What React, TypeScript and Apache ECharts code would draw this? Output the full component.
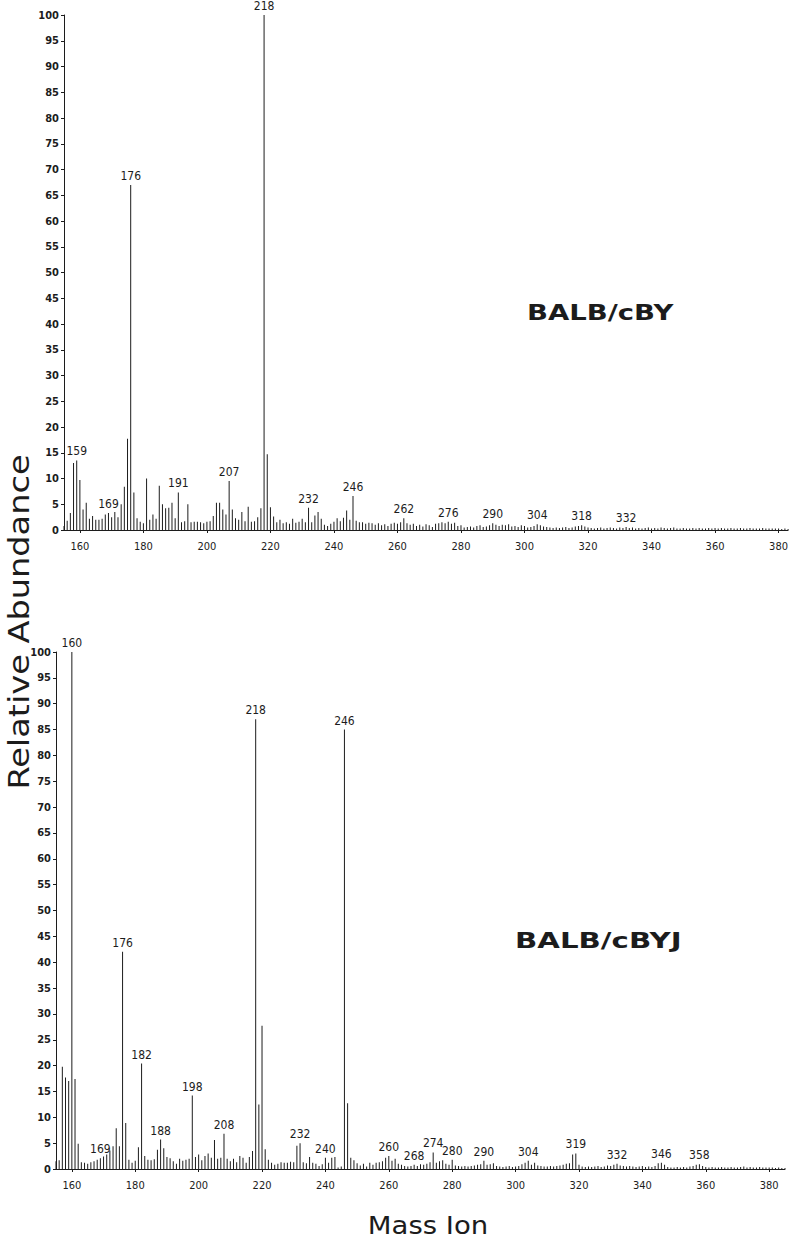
import React, { useEffect, useRef } from "react";
import * as echarts from "echarts";

// m/z of the first value in each abundance array
const MASS_START = 155;

// BALB/cBY relative abundance, m/z 155 .. 383
const topAbundance = [
  0.8, 1.8, 3.3, 13, 13.5, 9.7, 4, 5.3, 2.2, 2.7, // 155-164
  2, 2, 2.2, 3, 3.3, 2.5, 3.5, 2.5, 5, 8.4, // 165-174
  17.7, 67, 7.3, 2.3, 1.6, 1.3, 10, 2, 3, 2.2, // 175-184
  8.6, 5, 4.2, 4.3, 5.3, 2.3, 7.3, 1.5, 1.7, 5, // 185-194
  1.5, 1.6, 1.6, 1.5, 1.3, 1.6, 1.7, 2.7, 5.3, 5.3, // 195-204
  4, 3, 9.5, 4, 2.3, 2, 3.5, 1.7, 4.5, 1.6, // 205-214
  1.7, 2.5, 4.2, 100, 14.7, 4.4, 2.6, 1.5, 2, 1.3, // 215-224
  1.5, 1.2, 2.2, 1.4, 1.6, 2.2, 1.5, 4.3, 1.5, 2.8, // 225-234
  3.5, 2.2, 1, 0.8, 1.2, 1.6, 2.3, 1.7, 2.4, 3.8, // 235-244
  2, 6.6, 1.8, 1.5, 1.5, 1.2, 1.4, 1.3, 1, 1.3, // 245-254
  0.9, 1.1, 0.8, 1.2, 1.4, 1.2, 1.5, 2.3, 1.3, 1, // 255-264
  1.2, 0.8, 1, 0.7, 1.1, 0.9, 0.6, 1.2, 1.3, 1.5, // 265-274
  1.3, 1.6, 1.2, 1.4, 0.8, 0.9, 0.5, 0.6, 0.7, 0.5, // 275-284
  0.8, 0.9, 0.6, 0.7, 0.9, 1.3, 1, 0.8, 1, 0.9, // 285-294
  1.1, 0.7, 0.8, 0.6, 0.9, 0.8, 0.5, 0.6, 0.8, 1.1, // 295-304
  0.9, 0.7, 0.6, 0.5, 0.4, 0.5, 0.4, 0.5, 0.6, 0.4, // 305-314
  0.5, 0.7, 0.8, 0.9, 0.7, 0.5, 0.4, 0.3, 0.4, 0.5, // 315-324
  0.3, 0.4, 0.5, 0.4, 0.3, 0.5, 0.4, 0.6, 0.4, 0.5, // 325-334
  0.3, 0.4, 0.3, 0.4, 0.5, 0.3, 0.4, 0.3, 0.5, 0.4, // 335-344
  0.3, 0.4, 0.5, 0.3, 0.3, 0.4, 0.3, 0.3, 0.4, 0.3, // 345-354
  0.4, 0.3, 0.3, 0.4, 0.3, 0.4, 0.3, 0.4, 0.3, 0.3, // 355-364
  0.4, 0.3, 0.3, 0.4, 0.3, 0.3, 0.4, 0.3, 0.3, 0.3, // 365-374
  0.4, 0.3, 0.3, 0.3, 0.3, 0.3, 0.2, 0.3, 0.2, // 375-383
];

// BALB/cBYJ relative abundance, m/z 155 .. 385
const bottomAbundance = [
  1.5, 1.7, 19.8, 17.7, 17, 100, 17.4, 4.9, 1.3, 1.2, // 155-164
  1, 1.3, 1.5, 1.8, 2.1, 2.4, 2.8, 3.6, 4.4, 7.9, // 165-174
  4.4, 42, 8.9, 1.8, 1.2, 1.6, 4.2, 20.4, 2.5, 1.8, // 175-184
  1.7, 1.9, 3.7, 5.7, 4, 2.3, 2.1, 1.5, 1, 2, // 185-194
  1.6, 1.8, 2, 14.2, 2.3, 2.8, 1.7, 2.5, 3, 2.2, // 195-204
  5.6, 2, 2.2, 6.8, 2, 1.5, 2, 1.3, 2.5, 2.2, // 205-214
  1.2, 2.3, 3.5, 87, 12.5, 27.7, 3.8, 1.8, 1.2, 0.8, // 215-224
  1, 1.3, 1.2, 1.2, 1.4, 1.3, 4.5, 5, 1.3, 1.1, // 225-234
  2.3, 1.2, 1, 0.6, 0.9, 2.2, 1.2, 2.2, 2.3, 0.3, // 235-244
  0.5, 85, 12.7, 2.2, 1.7, 1.1, 0.7, 1, 0.5, 1.2, // 245-254
  0.8, 1.2, 1.3, 1.5, 2.2, 2.5, 1.6, 2, 1, 0.8, // 255-264
  0.6, 0.5, 0.6, 0.8, 0.6, 0.9, 0.8, 1, 1.3, 3.2, // 265-274
  1.2, 1.5, 1.7, 1, 0.8, 1.8, 0.7, 0.6, 0.5, 0.6, // 275-284
  0.5, 0.6, 0.7, 0.8, 0.9, 1.6, 0.8, 0.9, 1.1, 0.6, // 285-294
  0.5, 0.4, 0.5, 0.6, 0.4, 0.5, 0.6, 0.9, 1.2, 1.6, // 295-304
  0.8, 1.2, 0.7, 0.6, 0.5, 0.5, 0.6, 0.5, 0.6, 0.7, // 305-314
  0.8, 1, 1.1, 2.8, 3, 0.8, 0.5, 0.4, 0.5, 0.4, // 315-324
  0.5, 0.6, 0.4, 0.5, 0.7, 0.6, 0.8, 1, 0.7, 0.6, // 325-334
  0.5, 0.6, 0.5, 0.4, 0.5, 0.6, 0.4, 0.5, 0.4, 0.6, // 335-344
  1.1, 1.2, 0.8, 0.4, 0.3, 0.3, 0.4, 0.3, 0.4, 0.3, // 345-354
  0.5, 0.6, 0.8, 0.9, 0.6, 0.4, 0.3, 0.4, 0.3, 0.3, // 355-364
  0.4, 0.3, 0.3, 0.4, 0.3, 0.3, 0.4, 0.5, 0.3, 0.4, // 365-374
  0.3, 0.3, 0.4, 0.3, 0.3, 0.3, 0.3, 0.2, 0.3, 0.2, // 375-384
  0.2, // 385
];

// peaks that carry an m/z label
const topLabeledPeaks = [159, 169, 176, 191, 207, 218, 232, 246, 262, 276, 290, 304, 318, 332];
const bottomLabeledPeaks = [160, 169, 176, 182, 188, 198, 208, 218, 232, 240, 246, 260, 268, 274, 280, 290, 304, 319, 332, 346, 358];

// x-axis tick labels
const massTicks = [160, 180, 200, 220, 240, 260, 280, 300, 320, 340, 360, 380];

const INK = "#1c1c1c";
const NARROW = "'Liberation Sans Narrow', 'DejaVu Sans Condensed', 'Liberation Sans', sans-serif";

function buildData(values: number[], labeled: number[]) {
  return values.map((v, i) => {
    const m = MASS_START + i;
    if (labeled.includes(m)) {
      return { value: [m, v], label: { show: true } };
    }
    return [m, v];
  });
}

export default function App() {
  const ref = useRef<HTMLDivElement>(null);

  useEffect(() => {
    if (!ref.current) return;
    const chart = echarts.init(ref.current, undefined, { renderer: "svg" });

    const xAxisCommon = (gridIndex: number, max: number) => ({
      type: "value" as const,
      gridIndex,
      min: 155,
      max,
      axisLine: { show: true, lineStyle: { color: INK, width: 1 } },
      axisTick: { show: true, length: 3, customValues: massTicks, lineStyle: { color: INK } },
      axisLabel: {
        customValues: massTicks,
        color: INK,
        fontSize: 11,
        fontFamily: NARROW,
        margin: 11,
      },
      splitLine: { show: false },
    });

    const yAxisCommon = (gridIndex: number) => ({
      type: "value" as const,
      gridIndex,
      min: 0,
      max: 100,
      interval: 5,
      axisLine: { show: true, lineStyle: { color: INK, width: 1 } },
      axisTick: { show: true, length: 3, lineStyle: { color: INK } },
      axisLabel: {
        color: INK,
        fontSize: 11,
        fontWeight: "bold" as const,
        fontFamily: NARROW,
        margin: 5,
      },
      splitLine: { show: false },
    });

    const barSeries = (idx: number, values: number[], labeled: number[]) => ({
      type: "bar" as const,
      xAxisIndex: idx,
      yAxisIndex: idx,
      barWidth: 1,
      itemStyle: { color: INK },
      label: {
        show: false,
        position: "top" as const,
        distance: 3,
        color: INK,
        fontSize: 12,
        fontFamily: NARROW,
        formatter: (p: any) => String(p.value[0]),
      },
      data: buildData(values, labeled),
    });

    chart.setOption({
      animation: false,
      backgroundColor: "#ffffff",
      grid: [
        { left: 64, right: 2, top: 15, height: 515 },
        { left: 56, right: 6, top: 652, height: 517 },
      ],
      xAxis: [xAxisCommon(0, 383), xAxisCommon(1, 385)],
      yAxis: [yAxisCommon(0), yAxisCommon(1)],
      series: [
        barSeries(0, topAbundance, topLabeledPeaks),
        barSeries(1, bottomAbundance, bottomLabeledPeaks),
      ],
      graphic: [
        {
          type: "text",
          x: 527,
          y: 312,
          scaleX: 1.25,
          style: {
            text: "BALB/cBY",
            font: "bold 22px 'DejaVu Sans', sans-serif",
            fill: INK,
            verticalAlign: "middle",
          },
        },
        {
          type: "text",
          x: 515,
          y: 940,
          scaleX: 1.33,
          style: {
            text: "BALB/cBYJ",
            font: "bold 22px 'DejaVu Sans', sans-serif",
            fill: INK,
            verticalAlign: "middle",
          },
        },
        {
          type: "text",
          x: 19,
          y: 622,
          rotation: Math.PI / 2,
          scaleX: 1.2,
          style: {
            text: "Relative Abundance",
            font: "28px 'DejaVu Sans', sans-serif",
            fill: INK,
            align: "center",
            verticalAlign: "middle",
          },
        },
        {
          type: "text",
          x: 428,
          y: 1225,
          scaleX: 1.1,
          style: {
            text: "Mass Ion",
            font: "25px 'DejaVu Sans', sans-serif",
            fill: INK,
            align: "center",
            verticalAlign: "middle",
          },
        },
      ],
    });

    return () => chart.dispose();
  }, []);

  return (
    <div
      ref={ref}
      style={{ position: "absolute", left: 0, top: 0, width: 791, height: 1242, background: "#fff" }}
    />
  );
}
